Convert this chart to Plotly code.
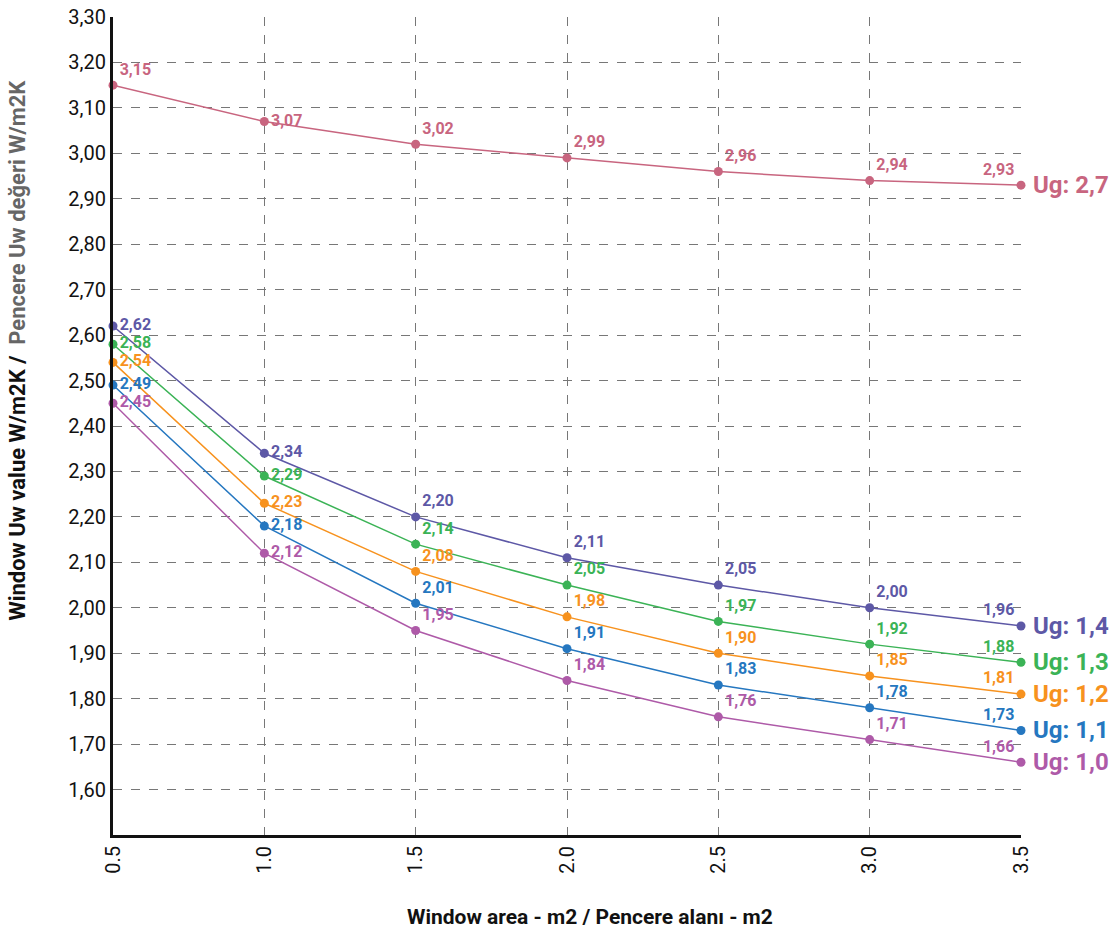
import plotly.graph_objects as go

x_area = [0.5, 1.0, 1.5, 2.0, 2.5, 3.0, 3.5]
x_tick_labels = ["0.5", "1.0", "1.5", "2.0", "2.5", "3.0", "3.5"]

series_names = ["Ug: 2,7", "Ug: 1,4", "Ug: 1,3", "Ug: 1,2", "Ug: 1,1", "Ug: 1,0"]
ug_27 = [3.15, 3.07, 3.02, 2.99, 2.96, 2.94, 2.93]
ug_14 = [2.62, 2.34, 2.20, 2.11, 2.05, 2.00, 1.96]
ug_13 = [2.58, 2.29, 2.14, 2.05, 1.97, 1.92, 1.88]
ug_12 = [2.54, 2.23, 2.08, 1.98, 1.90, 1.85, 1.81]
ug_11 = [2.49, 2.18, 2.01, 1.91, 1.83, 1.78, 1.73]
ug_10 = [2.45, 2.12, 1.95, 1.84, 1.76, 1.71, 1.66]
series_values = [ug_27, ug_14, ug_13, ug_12, ug_11, ug_10]
colors = ["#c8657f", "#5d58a6", "#3bb356", "#f7921e", "#2577c0", "#ae5aa8"]

y_ticks = [round(1.6 + 0.1 * i, 2) for i in range(18)]
y_tick_labels = [f"{v:.2f}".replace(".", ",") for v in y_ticks]

FONT = "Roboto, sans-serif"

fig = go.Figure()
for i, (name, vals, col) in enumerate(zip(series_names, series_values, colors)):
    first = "top right" if i == 0 else "middle right"
    pos = [first, "middle right"] + ["top right"] * 4 + ["top left"]
    fig.add_trace(go.Scatter(
        x=x_area, y=vals, mode="lines+markers+text", name=name,
        line=dict(color=col, width=1.5),
        marker=dict(color=col, size=9),
        text=[f"{v:.2f}".replace(".", ",") for v in vals],
        textposition=pos,
        textfont=dict(family=FONT, size=16, color=col, weight="bold"),
        cliponaxis=False,
        showlegend=False,
    ))
    fig.add_annotation(
        x=x_area[-1], y=vals[-1], xref="x", yref="y",
        text=name, showarrow=False, xanchor="left", yanchor="middle",
        xshift=10, font=dict(family=FONT, size=24, color=col, weight="bold"),
    )

fig.add_annotation(
    xref="paper", yref="paper", x=-0.105, y=0.593,
    text="<span style='color:#111'>Window Uw value W/m2K /</span>  <span style='color:#666'>Pencere Uw değeri W/m2K</span>",
    showarrow=False, textangle=-90, xanchor="center", yanchor="middle",
    font=dict(family=FONT, size=22, weight="bold"),
)
fig.add_annotation(
    xref="paper", yref="paper", x=0.5, y=-0.083,
    text="Window area - m2 / Pencere alanı - m2",
    showarrow=False, xanchor="center", yanchor="top", xshift=23,
    font=dict(family=FONT, size=21, color="#111", weight="bold"),
)

fig.update_layout(
    width=1118, height=933,
    margin=dict(l=113, r=97, t=17, b=98, autoexpand=False),
    plot_bgcolor="white", paper_bgcolor="white",
    font=dict(family=FONT, size=20, color="#111"),
)
fig.update_xaxes(
    range=[0.5, 3.5], tickvals=x_area, ticktext=x_tick_labels, tickangle=-90,
    showgrid=True, gridcolor="#777", griddash="dash", gridwidth=1,
    showline=True, linecolor="#111", linewidth=3, zeroline=False,
    ticks="", tickfont=dict(size=20, family=FONT), automargin=False,
)
fig.update_yaxes(
    range=[1.5, 3.3], tickvals=y_ticks, ticktext=y_tick_labels,
    showgrid=True, gridcolor="#777", griddash="dash", gridwidth=1,
    showline=True, linecolor="#111", linewidth=3, zeroline=False,
    ticks="", tickfont=dict(size=20, family=FONT), automargin=False,
)

fig.write_html("out.html", config={"displayModeBar": False})
with open("out.html", "r", encoding="utf-8") as f:
    html = f.read()
html = html.replace("<head>", "<head><style>html,body{margin:0;padding:0;overflow:hidden}</style>", 1)
with open("out.html", "w", encoding="utf-8") as f:
    f.write(html)
